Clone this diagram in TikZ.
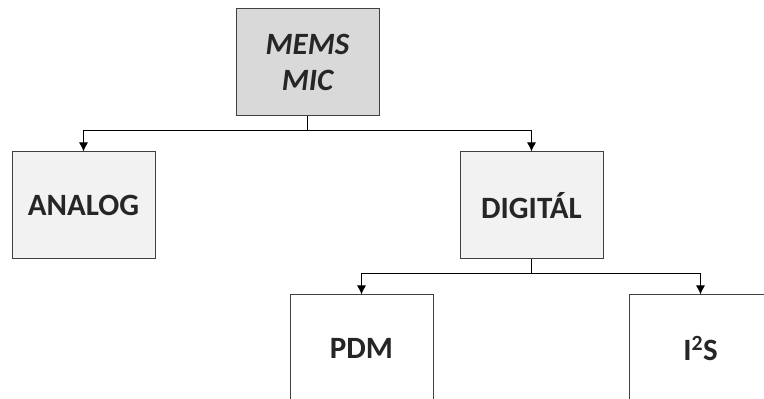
\documentclass[tikz,border=0pt]{standalone}
\usepackage{fontspec}
\setmainfont{Carlito}
\usepackage{tikz}
\usetikzlibrary{arrows.meta, positioning}
\definecolor{micGray}{HTML}{D9D9D9}
\definecolor{micLight}{HTML}{F2F2F2}
\definecolor{micLine}{HTML}{404040}
\definecolor{micText}{HTML}{262626}

\begin{document}
\begin{tikzpicture}[
  x=1pt, y=1pt,
  blk/.style={draw=micLine, line width=1pt, minimum width=143pt, minimum height=107pt, inner sep=0pt,
    font=\fontsize{31}{36}\selectfont\bfseries, text=micText, align=center},
  arr/.style={-{Latex[length=9pt, width=9pt]}, line width=1pt, draw=black}
]
\clip (0,0) rectangle (764,399);
\node[blk, fill=micGray, font=\fontsize{31}{36}\selectfont\bfseries\itshape] (mems) at (307.5,336.5) {MEMS\\MIC};
\node[blk, fill=micLight] (analog) at (83.5,193.5) {ANALOG};
\node[blk, fill=micLight] (digital) at (531.5,193.5) {DIGITÁL};
\node[blk, fill=white] (pdm) at (361.5,50.5) {PDM};
\node[blk, fill=white] (i2s) at (700.5,50.5) {I\textsuperscript{2}S};

\draw[arr] (mems.south) -- ++(0,-14) -| (analog.north);
\draw[arr] (mems.south) -- ++(0,-14) -| (digital.north);
\draw[arr] (digital.south) -- ++(0,-14) -| (pdm.north);
\draw[arr] (digital.south) -- ++(0,-14) -| (i2s.north);
\end{tikzpicture}
\end{document}
